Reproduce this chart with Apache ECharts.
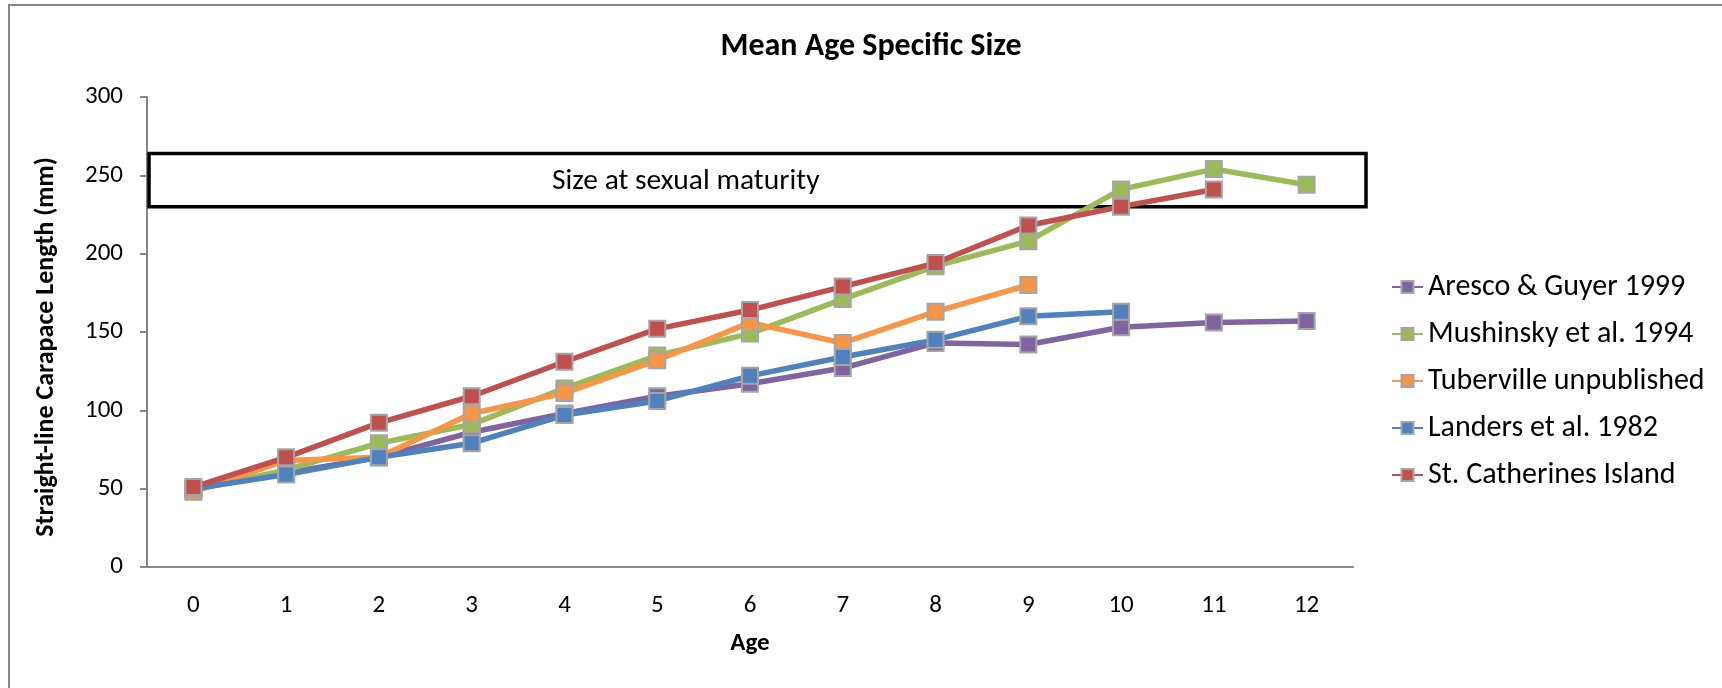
<!DOCTYPE html>
<html>
<head>
<meta charset="utf-8">
<script src="https://cdn.jsdelivr.net/npm/echarts@6/dist/echarts.min.js"></script>
<style>
html,body{margin:0;padding:0;background:#fff;}
#chart{width:1722px;height:688px;}
</style>
</head>
<body>
<div id="chart"></div>
<script>
// ---- data ----
const ages = ['0','1','2','3','4','5','6','7','8','9','10','11','12'];
const seriesNames = ['Aresco & Guyer 1999','Mushinsky et al. 1994','Tuberville unpublished','Landers et al. 1982','St. Catherines Island'];
const aresco      = [50, 60, 70, 86, 98, 109, 117, 127, 143, 142, 153, 156, 157];
const mushinsky   = [49, 62, 79, 91, 114, 135, 149, 171, 192, 208, 241, 254, 244];
const tuberville  = [48, 68, 70, 98, 111, 132, 156, 143, 163, 180, null, null, null];
const landers     = [50, 59, 70, 79, 97, 106, 122, 134, 145, 160, 163, null, null];
const stCatherines= [51, 70, 92, 109, 131, 152, 164, 179, 194, 218, 230, 241, null];
const yTicks = [0, 50, 100, 150, 200, 250, 300];
const maturityLow = 230;
const maturityHigh = 264;
const maturityLabel = 'Size at sexual maturity';

const colors = ['#8064A2','#9BBB59','#F79646','#4F81BD','#C0504D'];
const allData = [aresco, mushinsky, tuberville, landers, stCatherines];
const FONT = 'Carlito, Lato, "Open Sans", sans-serif';

const chart = echarts.init(document.getElementById('chart'), null, {renderer:'canvas'});

const series = seriesNames.map((n, i) => ({
  name: n,
  type: 'line',
  data: allData[i],
  symbol: 'rect',
  symbolSize: 16,
  showSymbol: true,
  lineStyle: {width: 5.5, color: colors[i]},
  itemStyle: {color: colors[i], borderColor: '#A5A5A5', borderWidth: 2},
  emphasis: {disabled: true},
  z: 2 + i
}));

chart.setOption({
  animation: false,
  textStyle: {fontFamily: FONT},
  title: {
    text: 'Mean Age Specific Size',
    left: 866, top: 26, textAlign: 'center',
    textStyle: {fontFamily: FONT, fontSize: 32, fontWeight: 'bold', color: '#000'}
  },
  legend: {
    orient: 'vertical',
    left: 1386, top: 267,
    itemWidth: 31, itemHeight: 15,
    itemGap: 17,
    data: seriesNames,
    textStyle: {fontFamily: FONT, fontSize: 30, color: '#000'}
  },
  grid: {left: 147, right: 369, top: 97, bottom: 121, containLabel: false},
  xAxis: {
    type: 'category',
    data: ages,
    boundaryGap: true,
    name: 'Age',
    nameLocation: 'middle',
    nameGap: 64,
    nameTextStyle: {fontFamily: FONT, fontSize: 25, fontWeight: 'bold', color: '#000'},
    axisLine: {lineStyle: {color: '#868686', width: 2}},
    axisTick: {show: false},
    axisLabel: {margin: 26, fontSize: 25, color: '#000', fontFamily: FONT},
    splitLine: {show: false}
  },
  yAxis: {
    type: 'value',
    min: yTicks[0], max: yTicks[yTicks.length-1], interval: 50,
    name: 'Straight-line Carapace Length (mm)',
    nameLocation: 'middle',
    nameGap: 88,
    nameTextStyle: {fontFamily: FONT, fontSize: 26, fontWeight: 'bold', color: '#000', padding: [0, 30, 0, 0]},
    axisLine: {show: true, lineStyle: {color: '#868686', width: 2}},
    axisTick: {show: true, length: 7, lineStyle: {color: '#868686', width: 2}},
    axisLabel: {margin: 24, fontSize: 25, color: '#000', fontFamily: FONT},
    splitLine: {show: false}
  },
  series: series
});

const yTop = chart.convertToPixel({yAxisIndex: 0}, maturityHigh);
const yBot = chart.convertToPixel({yAxisIndex: 0}, maturityLow);
chart.setOption({
  graphic: [
    {
      type: 'rect', silent: true, z: 1,
      shape: {x: 9, y: 5, width: 1800, height: 800},
      style: {fill: 'none', stroke: '#878787', lineWidth: 2}
    },
    {
      type: 'rect', silent: true, z: 1,
      shape: {x: 149, y: yTop, width: 1366 - 149, height: yBot - yTop},
      style: {fill: 'none', stroke: '#000', lineWidth: 3.5}
    },
    {
      type: 'text', silent: true, z: 1,
      x: 552, y: (yTop + yBot) / 2 + 2,
      style: {text: maturityLabel, fontFamily: FONT, fontSize: 29.5, fill: '#000', verticalAlign: 'middle', align: 'left'}
    }
  ]
});
</script>
</body>
</html>
